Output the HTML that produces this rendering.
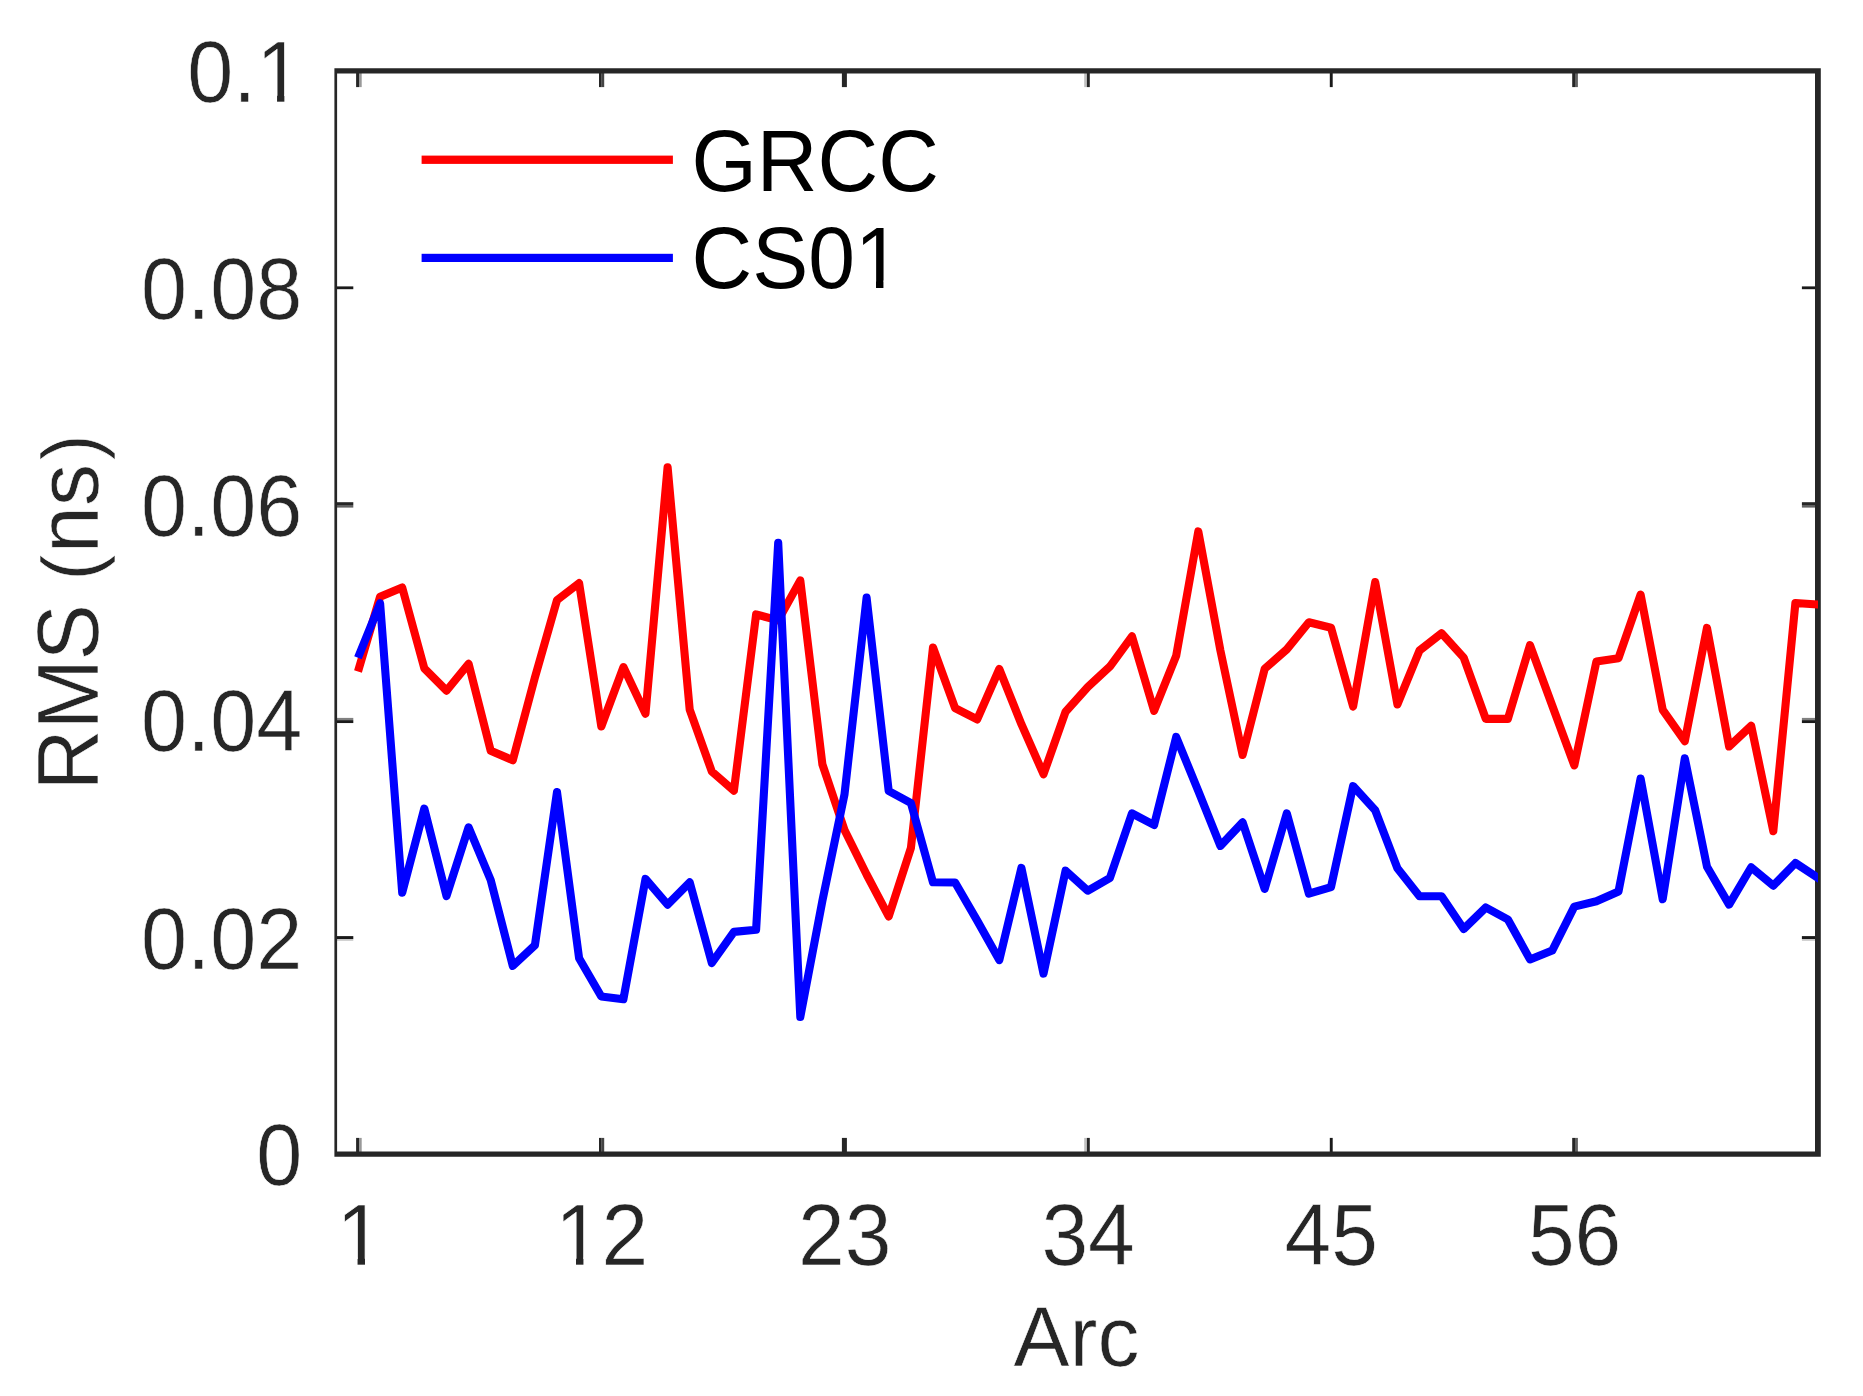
<!DOCTYPE html>
<html lang="en"><head><meta charset="utf-8"><title>RMS per Arc</title>
<style>
html,body{margin:0;padding:0;background:#fff;}
body{width:1863px;height:1396px;overflow:hidden;}
svg{display:block;}
text{font-family:"Liberation Sans",Arial,Helvetica,sans-serif;font-size:84px;fill:#262626;stroke:#fff;stroke-width:0.6px;}
.leg text{fill:#000;stroke:none;}
</style></head><body>
<svg width="1863" height="1396" viewBox="0 0 1863 1396">
<rect x="0" y="0" width="1863" height="1396" fill="#fff"/>
<g class="leg">
<rect x="421.6" y="155.6" width="251.3" height="8.3" fill="#ff0000"/>
<rect x="421.6" y="253.8" width="251.3" height="8.2" fill="#0000ff"/>
<text transform="translate(691.5,190.9) scale(1,1.04)" text-anchor="start">GRCC</text>
<text transform="translate(691.5,288.0) scale(1,1.04)" text-anchor="start">CS01</text>
</g>
<g>
<rect x="356.1" y="1137.9" width="2.90" height="16.9" fill="#262626"/><rect x="356.1" y="70.2" width="2.90" height="16.9" fill="#262626"/>
<rect x="359.0" y="1137.9" width="2.70" height="16.9" fill="#999"/><rect x="359.0" y="70.2" width="2.70" height="16.9" fill="#999"/>
<rect x="599.0" y="1137.9" width="2.70" height="16.9" fill="#262626"/><rect x="599.0" y="70.2" width="2.70" height="16.9" fill="#262626"/>
<rect x="601.7" y="1137.9" width="2.50" height="16.9" fill="#444"/><rect x="601.7" y="70.2" width="2.50" height="16.9" fill="#444"/>
<rect x="841.9" y="1137.9" width="5.00" height="16.9" fill="#262626"/><rect x="841.9" y="70.2" width="5.00" height="16.9" fill="#262626"/>
<rect x="1084.2" y="1137.9" width="2.70" height="16.9" fill="#c0c0c0"/><rect x="1084.2" y="70.2" width="2.70" height="16.9" fill="#c0c0c0"/>
<rect x="1086.9" y="1137.9" width="2.90" height="16.9" fill="#262626"/><rect x="1086.9" y="70.2" width="2.90" height="16.9" fill="#262626"/>
<rect x="1329.8" y="1137.9" width="2.90" height="16.9" fill="#1a1a1a"/><rect x="1329.8" y="70.2" width="2.90" height="16.9" fill="#1a1a1a"/>
<rect x="1572.2" y="1137.9" width="2.80" height="16.9" fill="#262626"/><rect x="1572.2" y="70.2" width="2.80" height="16.9" fill="#262626"/>
<rect x="1575.0" y="1137.9" width="2.90" height="16.9" fill="#606060"/><rect x="1575.0" y="70.2" width="2.90" height="16.9" fill="#606060"/>
<rect x="335.4" y="286.4" width="17.9" height="2.80" fill="#1a1a1a"/><rect x="1801.9" y="286.4" width="16.9" height="2.80" fill="#1a1a1a"/>
<rect x="335.4" y="502.2" width="17.9" height="2.80" fill="#262626"/><rect x="1801.9" y="502.2" width="16.9" height="2.80" fill="#262626"/>
<rect x="335.4" y="505.0" width="17.9" height="2.60" fill="#606060"/><rect x="1801.9" y="505.0" width="16.9" height="2.60" fill="#606060"/>
<rect x="335.4" y="717.9" width="17.9" height="2.25" fill="#808080"/><rect x="1801.9" y="717.9" width="16.9" height="2.25" fill="#808080"/>
<rect x="335.4" y="720.15" width="17.9" height="2.90" fill="#1a1a1a"/><rect x="1801.9" y="720.15" width="16.9" height="2.90" fill="#1a1a1a"/>
<rect x="335.4" y="936.1" width="17.9" height="2.90" fill="#1a1a1a"/><rect x="1801.9" y="936.1" width="16.9" height="2.90" fill="#1a1a1a"/>
<rect x="335.4" y="939.0" width="17.9" height="1.80" fill="#c8c8c8"/><rect x="1801.9" y="939.0" width="16.9" height="1.80" fill="#c8c8c8"/>
</g>
<path fill="#262626" fill-rule="evenodd" d="M334.4,68.2H1820.8V1156.8H334.4Z M337.1,73.6H1815V1151.5H337.1Z"/>
<defs><clipPath id="c"><rect x="334.4" y="68.2" width="1483.6" height="1088.6"/></clipPath></defs>
<g clip-path="url(#c)" fill="none" stroke-width="8.1" stroke-linejoin="round" stroke-linecap="butt">
<polyline stroke="#ff0000" points="358.0,671.5 380.1,596.7 402.2,587.5 424.3,668.3 446.5,690.7 468.6,663.8 490.7,750.7 512.8,760.2 534.9,677.5 557.0,600.1 579.1,583.1 601.3,726.5 623.4,667.1 645.5,713.7 667.6,467.2 689.7,709.7 711.8,771.5 733.9,790.7 756.1,614.4 778.2,620.3 800.3,580.4 822.4,764.4 844.5,830.0 866.6,874.5 888.7,916.4 910.9,848.1 933.0,647.5 955.1,708.1 977.2,719.4 999.3,669.0 1021.4,724.2 1043.5,774.2 1065.6,711.7 1087.8,687.0 1109.9,666.6 1132.0,636.3 1154.1,710.8 1176.2,655.8 1198.3,531.4 1220.4,650.5 1242.6,755.0 1264.7,668.7 1286.8,649.4 1308.9,622.3 1331.0,627.7 1353.1,706.5 1375.2,582.1 1397.4,704.4 1419.5,650.5 1441.6,633.2 1463.7,657.6 1485.8,718.9 1507.9,718.9 1530.0,645.1 1552.2,705.5 1574.3,765.4 1596.4,661.5 1618.5,658.2 1640.6,594.6 1662.7,709.8 1684.8,741.1 1707.0,627.9 1729.1,746.5 1751.2,725.8 1773.3,831.2 1795.4,603.0 1817.5,604.5 1839.6,606.0"/>
<polyline stroke="#0000ff" points="358.0,657.8 380.1,603.2 402.2,892.8 424.3,808.6 446.5,896.0 468.6,827.3 490.7,880.0 512.8,965.9 534.9,945.3 557.0,792.1 579.1,958.2 601.3,996.5 623.4,999.2 645.5,878.9 667.6,904.6 689.7,882.3 711.8,963.0 733.9,931.9 756.1,929.8 778.2,542.8 800.3,1017.0 822.4,900.8 844.5,794.4 866.6,597.6 888.7,791.0 910.9,803.0 933.0,882.3 955.1,882.5 977.2,920.6 999.3,960.1 1021.4,867.9 1043.5,973.6 1065.6,870.7 1087.8,890.7 1109.9,878.0 1132.0,813.3 1154.1,825.0 1176.2,737.0 1198.3,791.0 1220.4,845.9 1242.6,822.4 1264.7,888.9 1286.8,813.3 1308.9,893.6 1331.0,887.2 1353.1,786.1 1375.2,810.3 1397.4,868.3 1419.5,896.3 1441.6,896.3 1463.7,929.0 1485.8,907.5 1507.9,919.5 1530.0,959.4 1552.2,950.6 1574.3,906.6 1596.4,901.2 1618.5,891.5 1640.6,778.5 1662.7,899.2 1684.8,758.3 1707.0,866.8 1729.1,904.6 1751.2,867.3 1773.3,885.7 1795.4,863.0 1817.5,877.6 1839.6,892.2"/>
</g>
<text transform="translate(359.8,1265.0) scale(1,1.04)" text-anchor="middle">1</text>
<text transform="translate(601.6,1265.0) scale(1,1.04)" text-anchor="middle">12</text>
<text transform="translate(844.8,1265.0) scale(1,1.04)" text-anchor="middle">23</text>
<text transform="translate(1088.1,1265.0) scale(1,1.04)" text-anchor="middle">34</text>
<text transform="translate(1331.3,1265.0) scale(1,1.04)" text-anchor="middle">45</text>
<text transform="translate(1574.6,1265.0) scale(1,1.04)" text-anchor="middle">56</text>
<text transform="translate(302.3,1184.5) scale(0.986,1.04)" text-anchor="end">0</text>
<text transform="translate(302.3,969.1) scale(0.986,1.04)" text-anchor="end">0.02</text>
<text transform="translate(302.3,751.2) scale(0.986,1.04)" text-anchor="end">0.04</text>
<text transform="translate(302.3,535.8) scale(0.986,1.04)" text-anchor="end">0.06</text>
<text transform="translate(302.3,318.5) scale(0.986,1.04)" text-anchor="end">0.08</text>
<text transform="translate(302.3,102.1) scale(0.986,1.04)" text-anchor="end">0.1</text>
<text transform="translate(1076.5,1366.4) scale(1,1.02)" text-anchor="middle">Arc</text>
<text transform="translate(97.6,612.5) rotate(-90) scale(1.007,1.04)" text-anchor="middle">RM<tspan dx="-1.5">S</tspan> <tspan font-size="77" dx="0.2">(</tspan><tspan dx="1.2">ns</tspan><tspan font-size="77" dx="3.7">)</tspan></text>
<rect x="860.39" y="280.57" width="15.62" height="8.33" fill="#fff"/><rect x="883.43" y="280.57" width="14.97" height="8.33" fill="#fff"/>
<rect x="341.94" y="1257.57" width="15.62" height="8.33" fill="#fff"/><rect x="364.99" y="1257.57" width="14.97" height="8.33" fill="#fff"/>
<rect x="560.39" y="1257.57" width="15.62" height="8.33" fill="#fff"/><rect x="583.43" y="1257.57" width="14.97" height="8.33" fill="#fff"/>
<rect x="261.64" y="94.67" width="15.41" height="8.33" fill="#fff"/><rect x="284.37" y="94.67" width="14.76" height="8.33" fill="#fff"/>
</svg></body></html>
